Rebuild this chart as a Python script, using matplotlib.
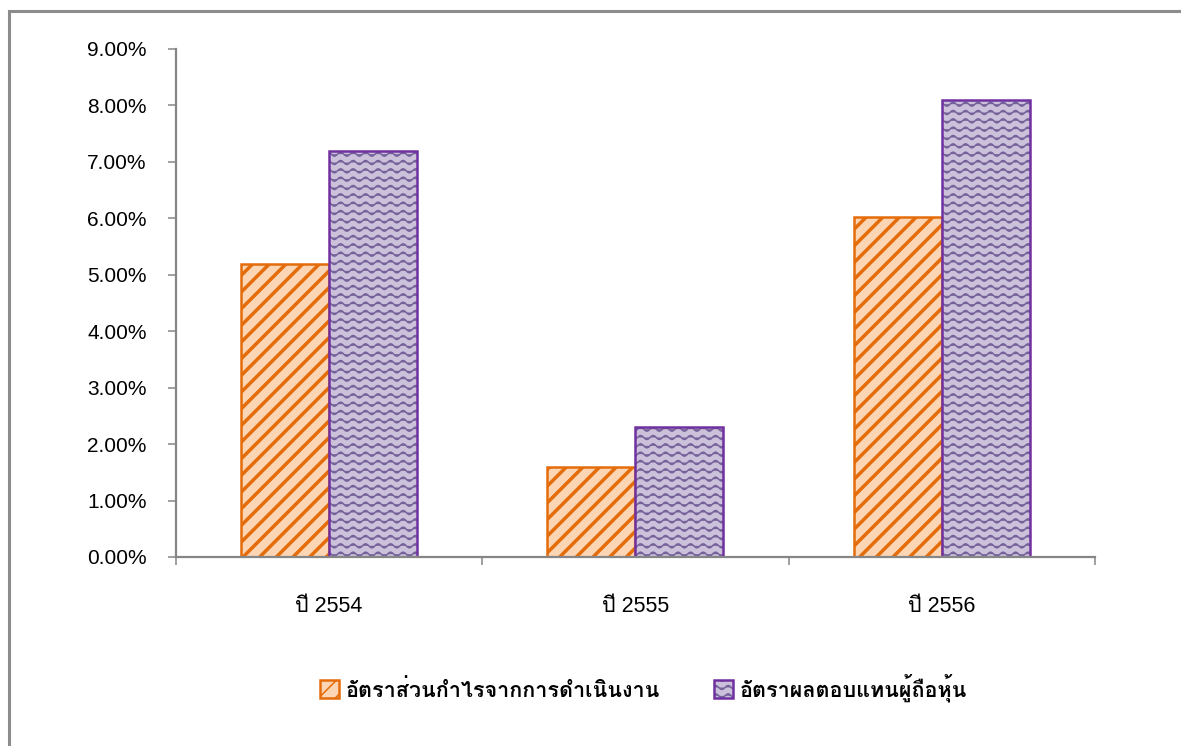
import matplotlib
matplotlib.use("Agg")
import matplotlib.pyplot as plt
import numpy as np
from matplotlib import hatch as mhatch
from matplotlib import font_manager as fm
from matplotlib.ft2font import FT2Font
from matplotlib.path import Path
from matplotlib.patches import Rectangle
from matplotlib.legend_handler import HandlerTuple

# Data
years = ['ปี 2554', 'ปี 2555', 'ปี 2556']
operating_margin = [5.19, 1.60, 6.03]
shareholder_return = [7.20, 2.30, 8.10]
series_names = ['อัตราส่วนกำไรจากการดำเนินงาน', 'อัตราผลตอบแทนผู้ถือหุ้น']
yticks = [0, 1, 2, 3, 4, 5, 6, 7, 8, 9]


# wavy hatch pattern ('~'), matplotlib has none built in
class WaveHatch(mhatch.HatchPatternBase):
    npts = 97

    def __init__(self, hatch, density):
        self.num_lines = int(hatch.count('~') * density)
        self.num_vertices = self.num_lines * self.npts

    def set_vertices_and_codes(self, vertices, codes):
        xs = np.linspace(0, 1, self.npts)
        for i in range(self.num_lines):
            y0 = (i + 0.5) / self.num_lines
            sl = slice(i * self.npts, (i + 1) * self.npts)
            vertices[sl, 0] = xs
            vertices[sl, 1] = y0 + 0.02 * np.sin(2 * np.pi * 8 * xs)
            codes[sl] = Path.LINETO
            codes[i * self.npts] = Path.MOVETO


mhatch._hatch_types.append(WaveHatch)

# find a font that has Thai glyphs, prefer looped styles
thai_fonts = []
for f in fm.fontManager.ttflist:
    try:
        if FT2Font(f.fname).get_char_index(0x0E2D):
            thai_fonts.append(f.name)
    except Exception:
        pass
thai_font = None
for pref in ['Tahoma', 'Loma', 'Looped', 'Garuda', 'Sarabun', 'Thai']:
    hits = [n for n in thai_fonts if pref in n]
    if hits:
        thai_font = hits[0]
        break
if thai_font is None and thai_fonts:
    thai_font = thai_fonts[0]
families = ['Liberation Sans'] + ([thai_font] if thai_font else []) + ['DejaVu Sans']
plt.rcParams['font.family'] = families

grey = '#868686'
fig = plt.figure(figsize=(11.81, 7.46), dpi=100)
ax = fig.add_axes([0.149, 0.2534, 0.778, 0.681])

x = np.arange(len(years))
w = 0.287

plt.rcParams['hatch.linewidth'] = 2.5
b1 = ax.bar(x - w / 2, operating_margin, w, color='#FCD5B5', edgecolor='#E46C0A',
            linewidth=1.8, hatch='//')
plt.rcParams['hatch.linewidth'] = 1.1
b2 = ax.bar(x + w / 2, shareholder_return, w, color='#CCC1DA', edgecolor='#76629A',
            linewidth=0, hatch='~~')
b3 = ax.bar(x + w / 2, shareholder_return, w, color='none', edgecolor='#7030A0',
            linewidth=1.8)
for p in b1:
    if hasattr(p, 'set_hatch_linewidth'):
        p.set_hatch_linewidth(2.5)
for p in b2:
    if hasattr(p, 'set_hatch_linewidth'):
        p.set_hatch_linewidth(1.1)

ax.set_xlim(-0.5, 2.5)
ax.set_ylim(0, 9)
ax.set_yticks(yticks)
ax.set_yticklabels(['{:.2f}%'.format(v) for v in yticks])
ax.set_xticks(x)
ax.set_xticklabels(years)
ax.set_xticks(np.arange(-0.5, len(years)), minor=True)
ax.tick_params(axis='y', length=6, width=1.1, color=grey, labelsize=15, pad=15)
ax.tick_params(axis='x', which='major', length=0, labelsize=15.5, pad=28)
ax.tick_params(axis='x', which='minor', length=6, width=1.1, color=grey)
for s in ['top', 'right']:
    ax.spines[s].set_visible(False)
for s in ['left', 'bottom']:
    ax.spines[s].set_color(grey)
    ax.spines[s].set_linewidth(1.6)

leg = fig.legend([b1, (b2, b3)], series_names, loc='center',
                 bbox_to_anchor=(0.545, 1 - 688 / 746), ncol=2, frameon=False,
                 handler_map={tuple: HandlerTuple(ndivide=1)},
                 prop={'size': 15.5, 'weight': 'bold'},
                 handlelength=0.9, handleheight=0.9, handletextpad=0.3,
                 columnspacing=2.5)

# outer chart border
fig.patches.append(Rectangle((8.5 / 1181, -0.05), 1.2, 1 - 11.5 / 746 + 0.05,
                             transform=fig.transFigure, fill=False,
                             edgecolor='#8C8C8C', linewidth=2.2))

fig.savefig('out.png', dpi=100)
